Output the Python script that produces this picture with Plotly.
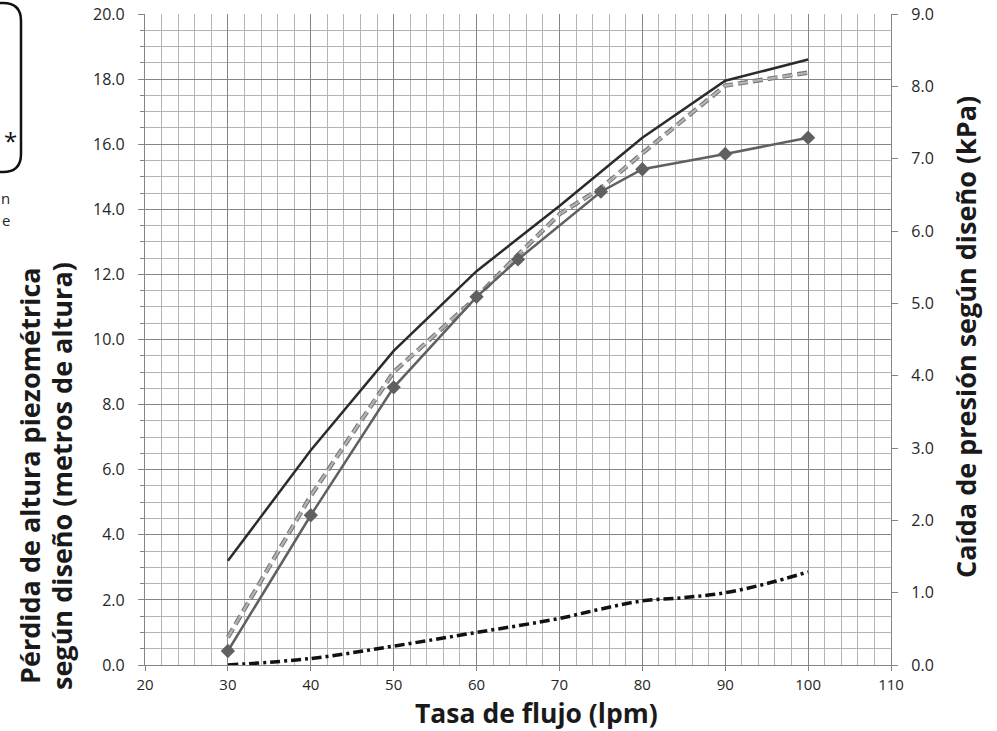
import plotly.graph_objects as go

# ---- data ----
x_black = [30, 40, 50, 60, 70, 80, 90, 100]
y_black = [3.2, 6.6, 9.65, 12.1, 14.1, 16.2, 17.95, 18.6]

x_dashed = [30, 40, 50, 60, 65, 70, 75, 80, 90, 100]
y_dashed = [0.85, 5.2, 9.0, 11.3, 12.6, 13.85, 14.65, 15.72, 17.8, 18.2]

x_marker = [30, 40, 50, 60, 65, 75, 80, 90, 100]
y_marker = [0.43, 4.6, 8.53, 11.31, 12.46, 14.54, 15.23, 15.7, 16.2]

x_dashdot = [30, 40, 50, 60, 70, 75, 80, 85, 90, 95, 100]
y_dashdot = [0.0, 0.2, 0.58, 1.0, 1.43, 1.72, 1.97, 2.07, 2.22, 2.5, 2.86]

x_ticks = [20, 30, 40, 50, 60, 70, 80, 90, 100, 110]
y_left_ticks = [0, 2, 4, 6, 8, 10, 12, 14, 16, 18, 20]
y_right_ticks = [0, 1, 2, 3, 4, 5, 6, 7, 8, 9]

FONT = "Open Sans"
MAJOR = "#858585"
MINOR = "#b4b4b4"
TXT = "#262626"

fig = go.Figure()

fig.add_trace(go.Scatter(x=x_black, y=y_black, mode="lines",
                         line=dict(color="#2b2b2b", width=2.5), showlegend=False))
# dashed line with darker outline
fig.add_trace(go.Scatter(x=x_dashed, y=y_dashed, mode="lines",
                         line=dict(color="#7a7a7a", width=4.5, dash="10px,5px"), showlegend=False))
fig.add_trace(go.Scatter(x=x_dashed, y=y_dashed, mode="lines",
                         line=dict(color="#b4b4b4", width=2.2, dash="10px,5px"), showlegend=False))
fig.add_trace(go.Scatter(x=x_marker, y=y_marker, mode="lines+markers",
                         line=dict(color="#606060", width=2.5),
                         marker=dict(symbol="diamond", size=11, color="#606060"),
                         showlegend=False))
fig.add_trace(go.Scatter(x=x_dashdot, y=y_dashdot, mode="lines",
                         line=dict(color="#111111", width=3.5, dash="10px,4px,3px,4px", shape="spline"),
                         showlegend=False))
# invisible trace for secondary axis
fig.add_trace(go.Scatter(x=[20], y=[0], yaxis="y2", mode="markers",
                         marker=dict(opacity=0), showlegend=False, hoverinfo="skip"))

fig.update_layout(
    width=997, height=731,
    margin=dict(l=145, r=106, t=14, b=66),
    paper_bgcolor="white", plot_bgcolor="white",
    font=dict(family=FONT, color=TXT),
    xaxis=dict(range=[20, 110], tickvals=x_ticks, ticktext=[str(v) for v in x_ticks],
               showgrid=True, gridcolor=MAJOR, gridwidth=1.3,
               minor=dict(dtick=2, showgrid=True, gridcolor=MINOR, gridwidth=1.2),
               showline=True, linecolor=MAJOR, linewidth=1.3, mirror=False,
               ticks="outside", ticklen=5, tickcolor=MAJOR,
               tickfont=dict(size=15, family=FONT, color=TXT),
               ticklabelstandoff=1, automargin=False,
               zeroline=False, layer="below traces"),
    yaxis=dict(range=[0, 20], tickvals=y_left_ticks,
               ticktext=[f"{v:.1f}" for v in y_left_ticks],
               showgrid=True, gridcolor=MAJOR, gridwidth=1.3,
               minor=dict(dtick=0.5, showgrid=True, gridcolor=MINOR, gridwidth=1.2,
                          ticks="outside", ticklen=4, tickcolor=MAJOR),
               showline=True, linecolor=MAJOR, linewidth=1.3,
               ticks="outside", ticklen=6, tickcolor=MAJOR,
               tickfont=dict(size=16, family=FONT, color=TXT),
               ticklabelstandoff=10, automargin=False, zeroline=False),
    yaxis2=dict(range=[0, 9], tickvals=y_right_ticks,
                ticktext=[f"{v:.1f}" for v in y_right_ticks],
                overlaying="y", side="right", showgrid=False,
                showline=True, linecolor=MAJOR, linewidth=1.3,
                ticks="outside", ticklen=6, tickcolor=MAJOR,
                tickfont=dict(size=16, family=FONT, color=TXT),
                ticklabelstandoff=10, automargin=False, zeroline=False),
)


def px(xp):
    return (xp - 145) / 746


def py(yp):
    return (665 - yp) / 651


TITLE = dict(family=FONT, color="#1a1a1a", weight="bold")

# axis titles as annotations
fig.add_annotation(text="Tasa de flujo (lpm)", xref="paper", yref="paper",
                   x=px(536), y=py(712.5), showarrow=False,
                   font=dict(size=26.5, **TITLE), xanchor="center", yanchor="middle")
fig.add_annotation(text="Pérdida de altura piezométrica",
                   xref="paper", yref="paper", x=px(29), y=py(476), textangle=-90,
                   showarrow=False, font=dict(size=27, **TITLE),
                   xanchor="center", yanchor="middle")
fig.add_annotation(text="según diseño (metros de altura)",
                   xref="paper", yref="paper", x=px(61), y=py(476), textangle=-90,
                   showarrow=False, font=dict(size=27, **TITLE),
                   xanchor="center", yanchor="middle")
fig.add_annotation(text="Caída de presión según diseño (kPa)",
                   xref="paper", yref="paper", x=px(965), y=py(337), textangle=-90,
                   showarrow=False, font=dict(size=27, **TITLE),
                   xanchor="center", yanchor="middle")

# cropped fragment of a box at top-left
r = 18
x_r, x_l, y_t, y_b = 21, -80, 3, 172
path = (f"M {px(x_l)},{py(y_t)} L {px(x_r - r)},{py(y_t)} "
        f"Q {px(x_r)},{py(y_t)} {px(x_r)},{py(y_t + r)} "
        f"L {px(x_r)},{py(y_b - r)} "
        f"Q {px(x_r)},{py(y_b)} {px(x_r - r)},{py(y_b)} "
        f"L {px(x_l)},{py(y_b)}")
fig.add_shape(type="path", path=path, xref="paper", yref="paper",
              line=dict(color="#111111", width=2.5))
fig.add_annotation(text="*", xref="paper", yref="paper", x=px(10), y=py(140),
                   showarrow=False, font=dict(size=24, family=FONT, color="#111111"),
                   xanchor="center", yanchor="middle")
fig.add_annotation(text="n", xref="paper", yref="paper", x=px(12), y=py(198),
                   showarrow=False, font=dict(size=15, family=FONT, color=TXT),
                   xanchor="right", yanchor="middle")
fig.add_annotation(text="e", xref="paper", yref="paper", x=px(12), y=py(220),
                   showarrow=False, font=dict(size=15, family=FONT, color=TXT),
                   xanchor="right", yanchor="middle")

fig.write_html("out.html", config={"displayModeBar": False},
               post_script="document.body.style.margin='0';")
